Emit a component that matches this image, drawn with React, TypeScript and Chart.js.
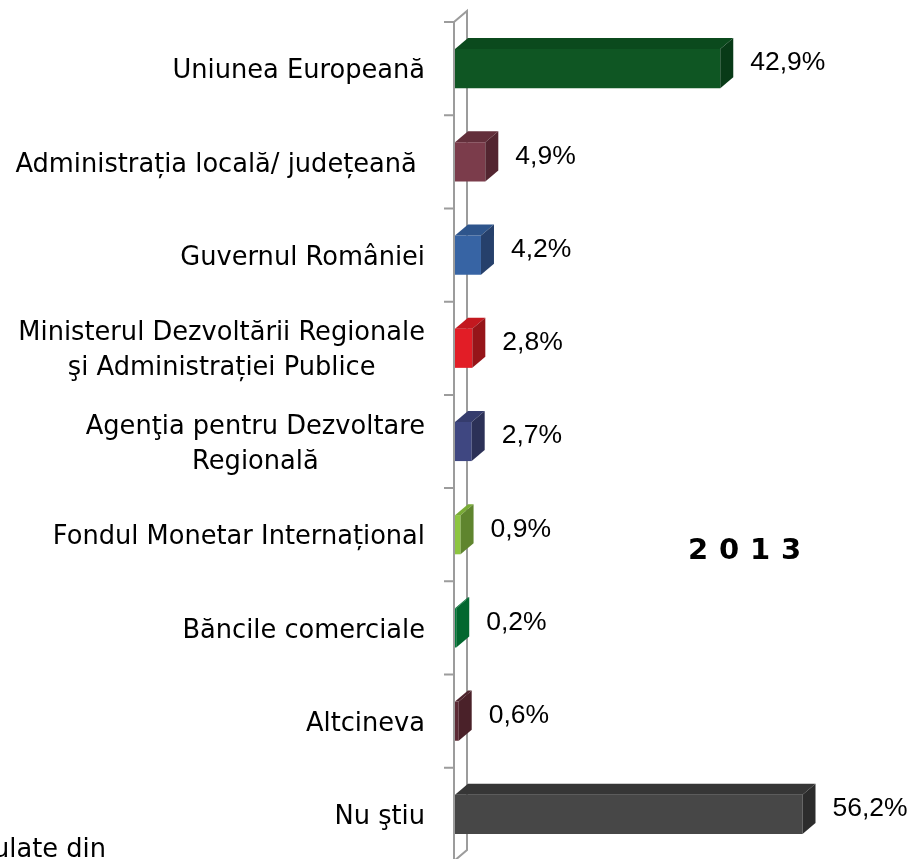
import React, { useEffect, useRef } from 'react';
import { Chart, registerables } from 'chart.js';

Chart.register(...registerables);

// ---- data ----
const categories: (string | string[])[] = [
  'Uniunea Europeană',
  'Administrația locală/ județeană ',
  'Guvernul României',
  ['Ministerul Dezvoltării Regionale', 'şi Administrației Publice'],
  ['Agenţia pentru Dezvoltare', 'Regională'],
  'Fondul Monetar Internațional',
  'Băncile comerciale',
  'Altcineva',
  'Nu ştiu',
];
const values: number[] = [42.9, 4.9, 4.2, 2.8, 2.7, 0.9, 0.2, 0.6, 56.2];
const frontColors: string[] = ['#0F5623', '#7B3C4B', '#3764A4', '#E21D26', '#3F4781', '#8DC540', '#037A3B', '#5C2A35', '#474747'];
const topColors: string[] = ['#0B4A1D', '#632F3B', '#2E558C', '#C3181F', '#353C6D', '#79AB37', '#026E35', '#4E242D', '#363636'];
const sideColors: string[] = ['#083A17', '#532530', '#26406B', '#961519', '#2C3157', '#5F852E', '#02672F', '#4A2129', '#2C2C2C'];
const yearLabel = '2013';
const footnote = 'ulate din';
const xMin = 0;
const xMax = 60;

const fmt = (v: number) => v.toFixed(1).replace('.', ',') + '%';

const DX = 13;
const DY = 11;
const CAT_FONT = '25.7px "DejaVu Sans", sans-serif';
const VAL_FONT = '26.5px "Liberation Sans", Arial, sans-serif';

const threeD = {
  id: 'threeD',
  beforeDatasetsDraw(chart: any) {
    const ctx = chart.ctx as CanvasRenderingContext2D;
    const area = chart.chartArea;
    const n = categories.length;
    const step = (area.bottom - area.top) / n;
    const fx = area.left - 1;
    const bx = fx + DX;
    ctx.save();
    ctx.strokeStyle = '#9c9c9c';
    ctx.lineWidth = 2;
    ctx.beginPath();
    ctx.moveTo(fx, area.top);
    ctx.lineTo(fx, area.bottom);
    ctx.lineTo(bx, area.bottom - DY);
    ctx.lineTo(bx, area.top - DY);
    ctx.lineTo(fx, area.top);
    for (let k = 0; k <= n; k++) {
      const y = area.top + k * step;
      ctx.moveTo(fx - 10, y);
      ctx.lineTo(fx, y);
    }
    ctx.stroke();

    // category labels
    const yScale = chart.scales.y;
    ctx.font = CAT_FONT;
    ctx.fillStyle = '#000';
    ctx.textBaseline = 'middle';
    ctx.textAlign = 'center';
    const right = area.left - 30;
    const lh = 35;
    categories.forEach((c, i) => {
      const lines = Array.isArray(c) ? c : [c];
      const w = Math.max(...lines.map((l) => ctx.measureText(l).width));
      const cx = right - w / 2;
      const cy = yScale.getPixelForValue(i) + 3;
      lines.forEach((l, j) => {
        ctx.fillText(l, cx, cy + (j - (lines.length - 1) / 2) * lh);
      });
    });
    ctx.restore();
  },
  afterDatasetsDraw(chart: any) {
    const ctx = chart.ctx as CanvasRenderingContext2D;
    const meta = chart.getDatasetMeta(0);
    ctx.save();
    meta.data.forEach((el: any, i: number) => {
      const p = el.getProps(['x', 'y', 'base', 'height'], true);
      const x0 = p.base;
      const x1 = p.x;
      const yT = p.y - p.height / 2;
      const yB = p.y + p.height / 2;
      // top face
      ctx.fillStyle = topColors[i];
      ctx.beginPath();
      ctx.moveTo(x0, yT);
      ctx.lineTo(x0 + DX, yT - DY);
      ctx.lineTo(x1 + DX, yT - DY);
      ctx.lineTo(x1, yT);
      ctx.closePath();
      ctx.fill();
      // side face
      ctx.fillStyle = sideColors[i];
      ctx.beginPath();
      ctx.moveTo(x1, yT);
      ctx.lineTo(x1 + DX, yT - DY);
      ctx.lineTo(x1 + DX, yB - DY);
      ctx.lineTo(x1, yB);
      ctx.closePath();
      ctx.fill();
      // value label
      ctx.font = VAL_FONT;
      ctx.fillStyle = '#000';
      ctx.textAlign = 'left';
      ctx.textBaseline = 'middle';
      ctx.fillText(fmt(values[i]), x1 + DX + 17, p.y - DY / 2);
    });

    // year label
    ctx.font = 'bold 29px "DejaVu Sans", sans-serif';
    ctx.fillStyle = '#000';
    ctx.textAlign = 'center';
    ctx.textBaseline = 'middle';
    const chars = yearLabel.split('');
    chars.forEach((ch, k) => {
      ctx.fillText(ch, 698 + k * 31, 551);
    });

    // cut-off footnote
    ctx.font = '25.7px "DejaVu Sans", sans-serif';
    ctx.textAlign = 'left';
    ctx.textBaseline = 'alphabetic';
    ctx.fillText(footnote, -7, 857);
    ctx.restore();
  },
};

export default function App() {
  const ref = useRef<HTMLCanvasElement | null>(null);
  useEffect(() => {
    if (!ref.current) return;
    const chart = new Chart(ref.current, {
      type: 'bar',
      data: {
        labels: categories as any,
        datasets: [
          {
            data: values,
            backgroundColor: frontColors,
            borderWidth: 0,
            barPercentage: 0.42,
            categoryPercentage: 1,
          },
        ],
      },
      options: {
        indexAxis: 'y',
        animation: false,
        responsive: false,
        devicePixelRatio: 1,
        layout: { padding: { left: 455, right: 86, top: 22, bottom: 19 } },
        scales: {
          x: { display: false, min: xMin, max: xMax },
          y: { display: false },
        },
        plugins: { legend: { display: false }, tooltip: { enabled: false } },
      },
      plugins: [threeD],
    });
    return () => chart.destroy();
  }, []);
  return (
    <div style={{ position: 'fixed', left: 0, top: 0, width: 912, height: 859, overflow: 'hidden', background: '#fff' }}>
      <canvas ref={ref} width={912} height={880} style={{ display: 'block' }} />
    </div>
  );
}
